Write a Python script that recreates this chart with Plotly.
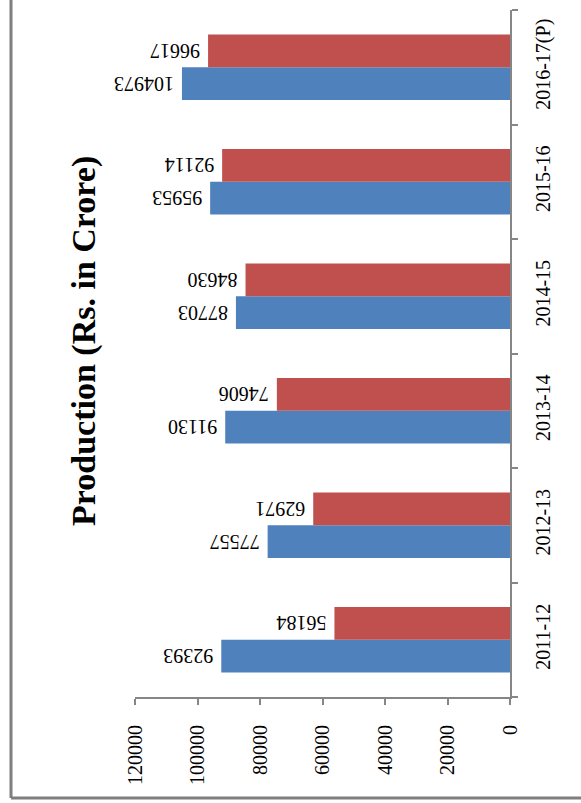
import plotly.graph_objects as go

years = ['2011-12', '2012-13', '2013-14', '2014-15', '2015-16', '2016-17(P)']
series_blue = [92393, 77557, 91130, 87703, 95953, 104973]
series_red = [56184, 62971, 74606, 84630, 92114, 96617]
value_ticks = [0, 20000, 40000, 60000, 80000, 100000, 120000]

W, H = 581, 803
ml, mr, mt, mb = 135, 71, 10, 106
pw, ph = W - ml - mr, H - mt - mb

font_family = 'Liberation Serif'

fig = go.Figure()
fig.add_trace(go.Bar(
    y=years, x=series_blue, orientation='h',
    marker=dict(color='#4F81BD', line=dict(width=0)),
    # nbsp in front: after the 180 deg turn it becomes the gap next to the bar end
    text=['\u00a0' + str(v) for v in series_blue], textposition='outside',
    textangle=180, cliponaxis=False,
    textfont=dict(family=font_family, size=20, color='black'),
))
fig.add_trace(go.Bar(
    y=years, x=series_red, orientation='h',
    marker=dict(color='#C0504D', line=dict(width=0)),
    text=['\u00a0' + str(v) for v in series_red], textposition='outside',
    textangle=180, cliponaxis=False,
    textfont=dict(family=font_family, size=20, color='black'),
))

# outer frame (left and bottom edges are the only visible ones)
def px_x(x):
    return (x - ml) / pw

def px_y(y):
    return (H - mb - y) / ph

fig.update_layout(
    width=W, height=H,
    margin=dict(l=ml, r=mr, t=mt, b=mb, autoexpand=False),
    barmode='group', bargap=0.43, bargroupgap=0,
    showlegend=False,
    plot_bgcolor='white', paper_bgcolor='white',
    font=dict(family=font_family, size=20, color='black'),
    xaxis=dict(
        range=[120000, 0], tickvals=value_ticks,
        ticktext=[str(v) for v in value_ticks],
        tickangle=-90, ticks='outside', ticklen=6, tickcolor='#868686', tickwidth=2,
        showline=True, linecolor='#868686', linewidth=2,
        showgrid=False, zeroline=False, ticklabelstandoff=12, automargin=False,
        tickfont=dict(family=font_family, size=20),
    ),
    yaxis=dict(
        type='category', side='right', tickangle=-90, ticks='outside', ticklen=6,
        tickcolor='#868686', tickwidth=2, tickson='boundaries',
        showline=True, linecolor='#868686', linewidth=2,
        showgrid=False, ticklabelstandoff=14, automargin=False,
        tickfont=dict(family=font_family, size=20),
    ),
    shapes=[
        dict(type='line', xref='paper', yref='paper',
             x0=px_x(11), x1=px_x(W + 10), y0=px_y(798), y1=px_y(798),
             line=dict(color='#7F7F7F', width=3)),
        dict(type='line', xref='paper', yref='paper',
             x0=px_x(11), x1=px_x(11), y0=px_y(798), y1=px_y(-10),
             line=dict(color='#7F7F7F', width=3)),
    ],
    annotations=[dict(
        text='<b>Production (Rs. in Crore)</b>', textangle=-90,
        xref='paper', yref='paper', x=px_x(84), y=px_y(341),
        xanchor='center', yanchor='middle',
        showarrow=False, font=dict(family=font_family, size=34, color='black'),
    )],
)

fig.write_html('out.html', config={'displayModeBar': False},
               post_script="document.body.style.margin='0px';")
